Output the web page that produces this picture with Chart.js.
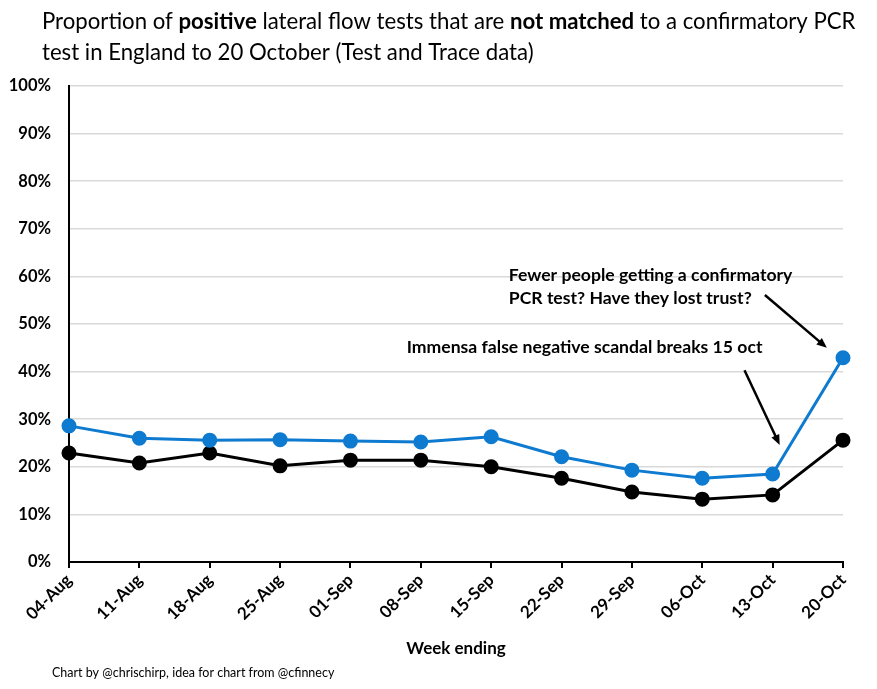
<!DOCTYPE html>
<html lang="en">
<head>
  <meta charset="UTF-8" />
  <title>Unmatched positive lateral flow tests</title>
  <script src="https://cdn.jsdelivr.net/npm/chart.js"></script>
  <style>
    body { margin: 0; background: #fff; font-family: Lato, sans-serif; }
    .chart-container { position: relative; width: 877px; height: 689px; }
  </style>
</head>
<body>
  <div class="chart-container">
    <canvas id="lftChart"></canvas>
  </div>

  <script>
    // Week ending labels
    const weeks = ['04-Aug', '11-Aug', '18-Aug', '25-Aug', '01-Sep', '08-Sep',
                   '15-Sep', '22-Sep', '29-Sep', '06-Oct', '13-Oct', '20-Oct'];

    // % of positive LFTs not matched to a confirmatory PCR
    const blueSeries  = [28.6, 26.0, 25.6, 25.7, 25.4, 25.2, 26.3, 22.1, 19.3, 17.6, 18.5, 42.9];
    const blackSeries = [22.9, 20.8, 22.9, 20.2, 21.4, 21.4, 20.0, 17.6, 14.7, 13.2, 14.1, 25.6];

    const yTicks = [0, 10, 20, 30, 40, 50, 60, 70, 80, 90, 100];

    const titleLines = [
      [['Proportion of ', false], ['positive', true], [' lateral flow tests that are ', false],
       ['not matched', true], [' to a confirmatory PCR', false]],
      [['test in England to 20 October (Test and Trace data)', false]]
    ];

    // notes: text lines and arrows, in data units (category index, %)
    const notes = [
      { lines: ['Fewer people getting a confirmatory', 'PCR test? Have they lost trust?'],
        x: 6.25, y: 60.2, arrowFrom: [9.89, 56.1], arrowTo: [10.77, 45.0] },
      { lines: ['Immensa false negative scandal breaks 15 oct'],
        x: 4.8, y: 45.2, arrowFrom: [9.6, 40.3], arrowTo: [10.1, 24.6] }
    ];

    const FONT = 'Lato, "Open Sans", sans-serif';

    const extrasPlugin = {
      id: 'extras',
      afterDraw(chart) {
        const ctx = chart.ctx;
        const xs = chart.scales.x, ys = chart.scales.y;
        ctx.save();
        ctx.fillStyle = '#000';
        ctx.textBaseline = 'middle';

        // title with bold runs
        const titleY = [22, 53];
        titleLines.forEach((line, i) => {
          let x = 42;
          line.forEach(([txt, bold]) => {
            ctx.font = (bold ? 'bold ' : '') + '22.2px ' + FONT;
            ctx.fillText(txt, x, titleY[i]);
            x += ctx.measureText(txt).width;
          });
        });

        // annotations
        ctx.font = 'bold 17.6px ' + FONT;
        notes.forEach(n => {
          const px = xs.getPixelForValue(n.x);
          const py = ys.getPixelForValue(n.y);
          n.lines.forEach((t, i) => ctx.fillText(t, px, py + i * 23));

          const x1 = xs.getPixelForValue(n.arrowFrom[0]), y1 = ys.getPixelForValue(n.arrowFrom[1]);
          const x2 = xs.getPixelForValue(n.arrowTo[0]), y2 = ys.getPixelForValue(n.arrowTo[1]);
          const ang = Math.atan2(y2 - y1, x2 - x1);
          ctx.strokeStyle = '#000';
          ctx.lineWidth = 2.5;
          ctx.beginPath();
          ctx.moveTo(x1, y1);
          ctx.lineTo(x2 - 6 * Math.cos(ang), y2 - 6 * Math.sin(ang));
          ctx.stroke();
          ctx.beginPath();
          ctx.moveTo(x2, y2);
          ctx.lineTo(x2 - 11 * Math.cos(ang - 0.4), y2 - 11 * Math.sin(ang - 0.4));
          ctx.lineTo(x2 - 11 * Math.cos(ang + 0.4), y2 - 11 * Math.sin(ang + 0.4));
          ctx.closePath();
          ctx.fill();
        });

        // footer
        ctx.font = '12.5px ' + FONT;
        ctx.fillText('Chart by @chrischirp, idea for chart from @cfinnecy', 52, 673);
        ctx.restore();
      }
    };

    const ctx = document.getElementById('lftChart').getContext('2d');
    const chart = new Chart(ctx, {
      type: 'line',
      data: {
        labels: weeks,
        datasets: [
          {
            label: 'Blue',
            data: blueSeries,
            borderColor: '#0E7BD0',
            backgroundColor: '#0E7BD0',
            borderWidth: 3,
            pointRadius: 6,
            pointHoverRadius: 6,
            tension: 0
          },
          {
            label: 'Black',
            data: blackSeries,
            borderColor: '#000',
            backgroundColor: '#000',
            borderWidth: 3,
            pointRadius: 6,
            pointHoverRadius: 6,
            tension: 0
          }
        ]
      },
      options: {
        responsive: true,
        maintainAspectRatio: false,
        animation: false,
        layout: { padding: { top: 86, right: 34, left: 0, bottom: 0 } },
        plugins: {
          legend: { display: false },
          title: { display: false },
          tooltip: { enabled: false }
        },
        scales: {
          x: {
            offset: false,
            afterFit: s => { s.height = 127; },
            grid: { display: true, drawOnChartArea: false, color: '#000', lineWidth: 2, tickLength: 6 },
            border: { color: '#000', width: 2 },
            ticks: {
              color: '#000',
              font: { family: FONT, size: 17, weight: 'bold' },
              minRotation: 45,
              maxRotation: 45,
              padding: 2
            },
            title: {
              display: true,
              text: 'Week ending',
              color: '#000',
              font: { family: FONT, size: 17, weight: 'bold' },
              padding: { top: 0, bottom: 30 }
            }
          },
          y: {
            min: 0,
            max: 100,
            afterFit: s => { s.width = 69; },
            afterBuildTicks: s => { s.ticks = yTicks.map(v => ({ value: v })); },
            grid: { color: '#d9d9d9', lineWidth: 1.5, drawTicks: false },
            border: { color: '#000', width: 2 },
            ticks: {
              color: '#000',
              font: { family: FONT, size: 16.5, weight: 'bold' },
              padding: 18,
              callback: v => v + '%'
            }
          }
        }
      },
      plugins: [extrasPlugin]
    });
  </script>
</body>
</html>
